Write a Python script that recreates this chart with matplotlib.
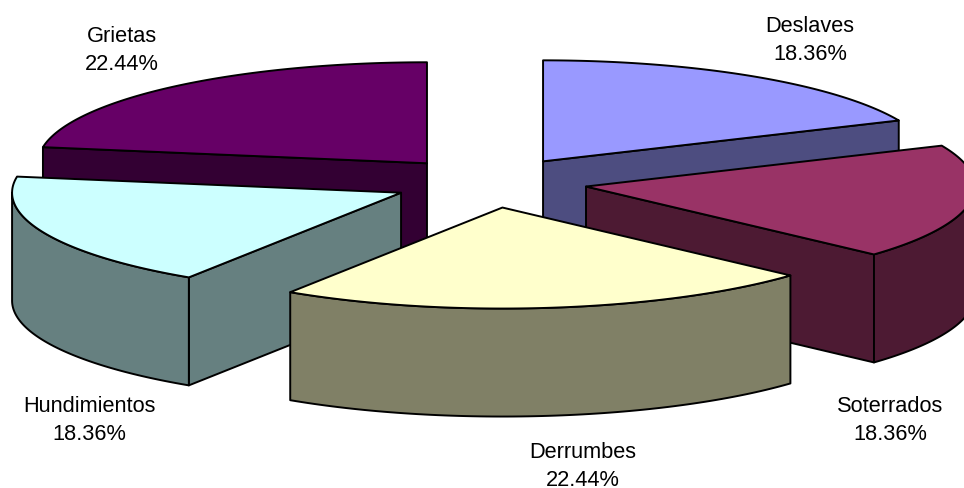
import numpy as np
import matplotlib
matplotlib.use('Agg')
import matplotlib.pyplot as plt

plt.rcParams['font.family'] = ['Liberation Sans', 'DejaVu Sans']

labels = ['Deslaves', 'Soterrados', 'Derrumbes', 'Hundimientos', 'Grietas']
values = [18.36, 18.36, 22.44, 18.36, 22.44]
top_colors = ['#9999FF', '#993366', '#FFFFCC', '#CCFFFF', '#660066']
side_colors = ['#4D4D80', '#4D1A33', '#808066', '#668080', '#330033']

# where the labels sit, in pixels of the picture
label_pos = [(810, 40.5), (890, 420.5), (583, 466.5), (89, 420.5), (122, 50.5)]

# pie geometry in pixels
cx, cy = 490, 183.5
rx, ry = 389, 101
explode = 0.25
depth = 108

# far slices first so the near ones cover them
draw_order = [4, 0, 1, 3, 2]


def rim(theta):
    # theta in degrees, clockwise from 12 o'clock
    t = np.radians(theta)
    return rx * np.sin(t), -ry * np.cos(t)


def cut_face_visible(theta, mid):
    # a cut face shows when the slice lies above its edge on screen
    ex, ey = rim(theta)
    mx, my = rim(mid)
    if abs(ex) < 1e-6:
        return False
    return my < ey / ex * mx


def draw_slice(ax, start, end, top, side):
    mid = (start + end) / 2
    ox, oy = rim(mid)
    ax0 = cx + explode * ox
    ay0 = cy + explode * oy
    style = dict(edgecolor='black', linewidth=1.4, joinstyle='round')

    # flat cut faces
    for theta in (start, end):
        if cut_face_visible(theta, mid):
            ex, ey = rim(theta)
            ax.fill([ax0, ax0 + ex, ax0 + ex, ax0],
                    [ay0, ay0 + ey, ay0 + ey + depth, ay0 + depth],
                    facecolor=side, **style)

    # outer wall, only the part turned to the viewer
    a = max(start, 90)
    b = min(end, 270)
    if b > a:
        th = np.linspace(a, b, 80)
        xs, ys = rim(th)
        ax.fill(np.r_[ax0 + xs, ax0 + xs[::-1]],
                np.r_[ay0 + ys, ay0 + ys[::-1] + depth],
                facecolor=side, **style)

    # top
    th = np.linspace(start, end, 120)
    xs, ys = rim(th)
    ax.fill(np.r_[ax0, ax0 + xs], np.r_[ay0, ay0 + ys], facecolor=top, **style)


fig = plt.figure(figsize=(9.64, 4.89), dpi=100)
ax = fig.add_axes([0, 0, 1, 1])
ax.set_xlim(0, 964)
ax.set_ylim(489, 0)
ax.axis('off')

total = sum(values)
edges = np.r_[0, np.cumsum(values)] / total * 360

for i in draw_order:
    draw_slice(ax, edges[i], edges[i + 1], top_colors[i], side_colors[i])

for i, name in enumerate(labels):
    ax.text(label_pos[i][0], label_pos[i][1], '{}\n{:.2f}%'.format(name, values[i]),
            ha='center', va='center', fontsize=15.7, linespacing=1.38, color='black')

fig.savefig('out.png', dpi=100)
